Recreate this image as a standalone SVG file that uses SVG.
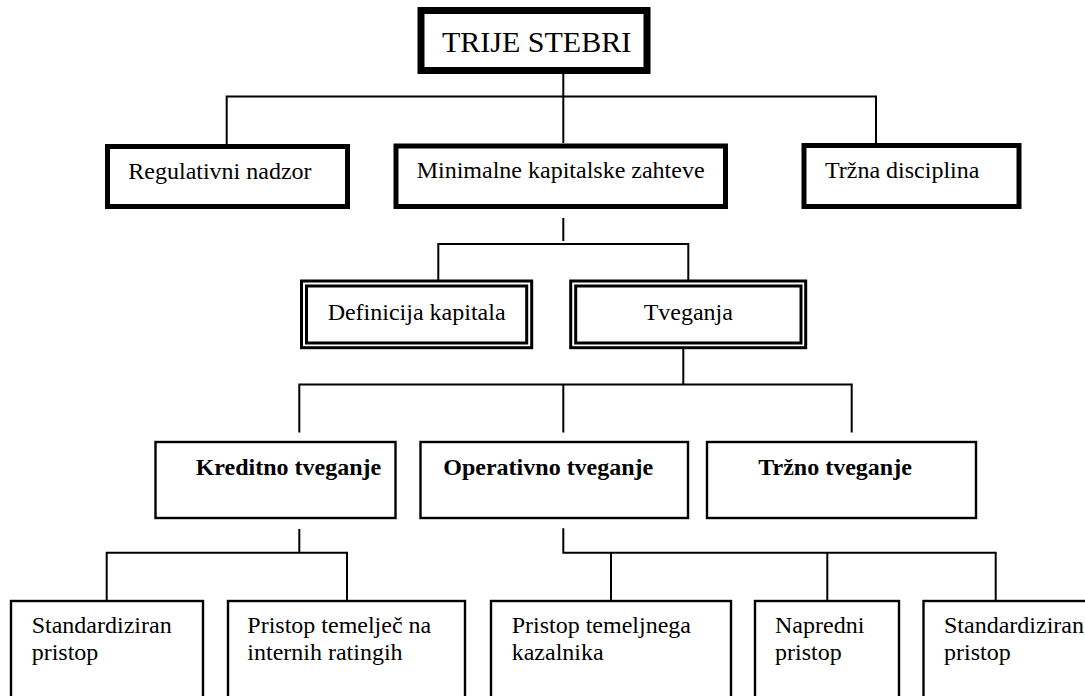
<svg xmlns="http://www.w3.org/2000/svg" width="1085" height="696" viewBox="0 0 1085 696">
  <style>
    .bg { fill: #ffffff; }
    .box { fill: #ffffff; stroke: #000000; }
    .heavy { stroke-width: 7; }
    .bold-frame { stroke-width: 5; }
    .dbl { stroke-width: 3; }
    .thin { stroke-width: 2.4; }
    .lbl { font-family: "Liberation Serif", "Times New Roman", serif; font-size: 24px; fill: #000000; }
    .title { font-size: 30px; }
    .b { font-weight: bold; }
    .wire { fill: none; stroke: #000000; stroke-width: 2; }
  </style>

  <rect class="bg" x="0" y="0" width="1085" height="696"/>

  <!-- connectors -->
  <g id="connectors">
    <path class="wire" d="M563.3 74 V143"/>
    <path class="wire" d="M226.7 144 V96.5 H876 V143"/>
    <path class="wire" d="M563.3 218 V241"/>
    <path class="wire" d="M438.3 281 V244 H688.3 V281"/>
    <path class="wire" d="M683.3 347 V384.5"/>
    <path class="wire" d="M299.3 432.5 V384.5 H851.7 V432.5"/>
    <path class="wire" d="M563.3 384.5 V432.5"/>
    <path class="wire" d="M299.3 529 V552.7"/>
    <path class="wire" d="M106.7 600 V552.7 H347 V600"/>
    <path class="wire" d="M563.3 528.3 V552.7 H995.7 V600"/>
    <path class="wire" d="M611 552.7 V600"/>
    <path class="wire" d="M827.3 552.7 V600"/>
  </g>

  <!-- level 0 -->
  <g id="trije-stebri">
    <rect class="box heavy" x="421" y="10.5" width="226" height="60"/>
    <text class="lbl title" x="442" y="52">TRIJE STEBRI</text>
  </g>

  <!-- level 1 -->
  <g id="regulativni-nadzor">
    <rect class="box bold-frame" x="107.5" y="146.5" width="240" height="60"/>
    <text class="lbl" x="128.3" y="179">Regulativni nadzor</text>
  </g>
  <g id="minimalne-kapitalske-zahteve">
    <rect class="box bold-frame" x="396" y="146" width="329.5" height="60.5"/>
    <text class="lbl" x="416.7" y="178">Minimalne kapitalske zahteve</text>
  </g>
  <g id="trzna-disciplina">
    <rect class="box bold-frame" x="804" y="145.5" width="215" height="61"/>
    <text class="lbl" x="825" y="178">Tržna disciplina</text>
  </g>

  <!-- level 2: double frames -->
  <g id="definicija-kapitala">
    <rect class="box dbl" x="301.5" y="281" width="230.2" height="66.7"/>
    <rect class="box dbl" x="306.5" y="286" width="220.2" height="57"/>
    <text class="lbl" x="416.6" y="319.5" text-anchor="middle">Definicija kapitala</text>
  </g>
  <g id="tveganja">
    <rect class="box dbl" x="570.7" y="281" width="235" height="66.7"/>
    <rect class="box dbl" x="575.7" y="286" width="225.3" height="57"/>
    <text class="lbl" x="688.3" y="320" text-anchor="middle">Tveganja</text>
  </g>

  <!-- level 3 -->
  <g id="kreditno-tveganje">
    <rect class="box thin" x="155.5" y="442" width="240" height="76"/>
    <text class="lbl b" x="195.7" y="475">Kreditno tveganje</text>
  </g>
  <g id="operativno-tveganje">
    <rect class="box thin" x="420.5" y="442" width="267.5" height="76"/>
    <text class="lbl b" x="443.3" y="475">Operativno tveganje</text>
  </g>
  <g id="trzno-tveganje">
    <rect class="box thin" x="707" y="442" width="269" height="76"/>
    <text class="lbl b" x="758.3" y="475">Tržno tveganje</text>
  </g>

  <!-- level 4: approaches (frames run past the lower edge) -->
  <g id="kredit-standardiziran">
    <rect class="box thin" x="11" y="601" width="192" height="110"/>
    <text class="lbl" x="31.7" y="633.3">Standardiziran</text>
    <text class="lbl" x="31.7" y="660">pristop</text>
  </g>
  <g id="kredit-interni-ratingi">
    <rect class="box thin" x="228" y="601" width="237" height="110"/>
    <text class="lbl" x="247.3" y="633.3">Pristop temelječ na</text>
    <text class="lbl" x="247.3" y="660">internih ratingih</text>
  </g>
  <g id="op-temeljni-kazalnik">
    <rect class="box thin" x="491" y="601" width="240" height="110"/>
    <text class="lbl" x="511.7" y="633.3">Pristop temeljnega</text>
    <text class="lbl" x="511.7" y="660">kazalnika</text>
  </g>
  <g id="op-napredni">
    <rect class="box thin" x="755" y="601" width="144" height="110"/>
    <text class="lbl" x="775" y="633.3">Napredni</text>
    <text class="lbl" x="775" y="660">pristop</text>
  </g>
  <g id="op-standardiziran">
    <rect class="box thin" x="923.5" y="601" width="200" height="110"/>
    <text class="lbl" x="944" y="633.3">Standardiziran</text>
    <text class="lbl" x="944" y="660">pristop</text>
  </g>
</svg>
